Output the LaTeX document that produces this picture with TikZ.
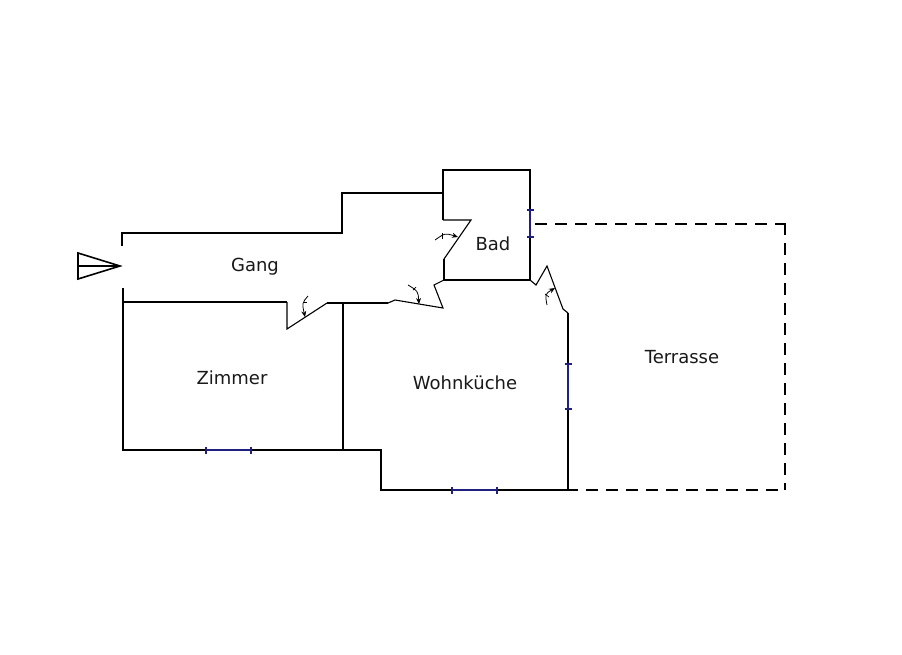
\documentclass[tikz,border=0pt]{standalone}
\usepackage{fontspec}
\setmainfont{DejaVu Sans}
\usetikzlibrary{arrows.meta}
\definecolor{winblue}{rgb}{0.12,0.12,0.5}
\tikzset{
	wall/.style={line width=2.8pt,black,line join=miter},
	door/.style={line width=1.1pt,black},
	swing/.style={line width=0.8pt,black,-{Stealth[length=6pt,width=5pt]}},
	swingtick/.style={line width=0.7pt,black},
	window/.style={line width=2.8pt,winblue,{Bar[width=7pt,line width=2pt]}-{Bar[width=7pt,line width=2pt]}},
	terrace/.style={line width=2.6pt,black,dash pattern=on 12pt off 8pt},
	room/.style={font=\fontsize{18}{20}\selectfont,text=black!90}
}
\begin{document}
\begin{tikzpicture}[x=1pt,y=-1pt]
	\useasboundingbox (0,0) rectangle (902,654);
	% walls
	\draw[wall] (122,246) -- (122,233) -- (342,233) -- (342,193) -- (443,193);
	\draw[wall] (443,220) -- (443,170) -- (530,170) -- (530,280) -- (444,280) -- (444,259);
	\draw[wall] (123,288) -- (123,450) -- (381,450) -- (381,490) -- (568,490) -- (568,313);
	\draw[wall] (123,302) -- (287,302);
	\draw[wall] (327,303) -- (388,303);
	\draw[wall] (343,303) -- (343,450);
	% terrace
	\draw[terrace] (535,224) -- (785,224);
	\draw[terrace] (785,223) -- (785,490);
	\draw[terrace,dash phase=2pt] (568,490) -- (785,490);
	% windows
	\draw[window] (205,450) -- (252,450);
	\draw[window] (451,490) -- (498,490);
	\draw[window] (568,363) -- (568,410);
	\draw[window] (530,209) -- (530,238);
	% doors
	\draw[door] (287,302) -- (287,329) -- (327,303);
	\draw[door] (443,220) -- (471,220) -- (444,259);
	\draw[door] (444,280) -- (434,285) -- (443,308) -- (395,300) -- (388,303);
	\draw[door] (530,280) -- (536,285) -- (547,266) -- (563,309) -- (568,313);
	% door swings
	\draw[swing] (308,296) .. controls (302,303) .. (305,317);
	\draw[swingtick] (303,302) -- (307,302);
	\draw[swing] (408,285) .. controls (418,291) .. (419,304);
	\draw[swingtick] (413,290) -- (416,287);
	\draw[swing] (435,240) .. controls (445,233) .. (458,237);
	\draw[swingtick] (442,233) -- (442,239);
	\draw[swing] (547,305) .. controls (545,294) .. (555,288);
	\draw[swingtick] (545,294) -- (549,297);
	% entrance
	\draw[door,line width=1.6pt] (78,253) -- (78,279) -- (120,266) -- cycle;
	\draw[door,line width=1.6pt] (78,266) -- (120,266);
	% rooms
	\node[room] (gang) at (255,267) {Gang};
	\node[room] (bad) at (493,244) {Bad};
	\node[room] (zimmer) at (232,378) {Zimmer};
	\node[room] (kueche) at (465,383) {Wohnküche};
	\node[room] (terrasse) at (682,357) {Terrasse};
\end{tikzpicture}
\end{document}
